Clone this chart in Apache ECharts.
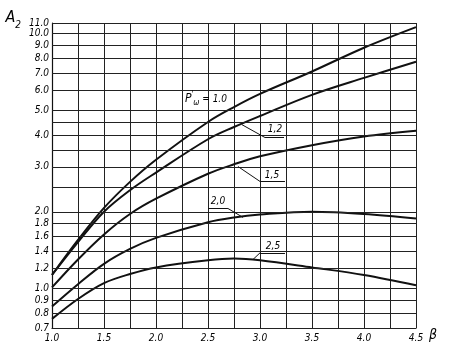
<!DOCTYPE html>
<html>
<head>
<meta charset="utf-8">
<script src="https://cdn.jsdelivr.net/npm/echarts@6/dist/echarts.min.js"></script>
<style>html,body{margin:0;padding:0;background:#fff}#c{width:452px;height:354px}</style>
</head>
<body>
<div id="c"></div>
<script>
// ---- data ----
const xValues = [1.0, 1.25, 1.5, 1.75, 2.0, 2.5, 2.75, 3.0, 3.5, 4.0, 4.5];
const curve10 = [1.13, 1.55, 2.07, 2.62, 3.2, 4.5, 5.15, 5.8, 7.1, 8.8, 10.6];
const curve12 = [1.13, 1.52, 2.0, 2.43, 2.85, 3.85, 4.3, 4.75, 5.75, 6.7, 7.75];
const curve15 = [1.01, 1.3, 1.63, 1.96, 2.25, 2.82, 3.07, 3.3, 3.65, 3.95, 4.16];
const curve20 = [0.85, 1.04, 1.25, 1.43, 1.58, 1.82, 1.9, 1.95, 2.0, 1.96, 1.88];
const curve25 = [0.76, 0.91, 1.05, 1.14, 1.21, 1.29, 1.31, 1.29, 1.21, 1.13, 1.03];
const yGridValues = [11, 10, 9, 8, 7, 6, 5, 4.5, 4, 3.5, 3, 2.5, 2, 1.8, 1.6, 1.4, 1.2, 1.0, 0.9, 0.8, 0.7];
const yTickLabels = ['11.0', '10.0', '9.0', '8.0', '7.0', '6.0', '5.0', '', '4.0', '', '3.0', '', '2.0', '1.8', '1.6', '1.4', '1.2', '1.0', '0.9', '0.8', '0.7'];
const curveLabels = ['1,2', '1,5', '2,0', '2,5'];
const curveLabelPos = [[3.144, 4.2], [3.115, 2.77], [2.596, 2.19], [3.125, 1.46]];
const leaderLines = [
  [[2.827, 4.39], [3.048, 3.91], [3.231, 3.91]],
  [[2.788, 3.01], [3.0, 2.63], [3.24, 2.63]],
  [[2.837, 1.90], [2.692, 2.06], [2.5, 2.06]],
  [[2.933, 1.30], [3.0, 1.38], [3.24, 1.38]]
];
const mainLabelPos = [2.48, 5.52];

const FONT = 'DejaVu Sans Condensed';
const INK = '#000';

const chart = echarts.init(document.getElementById('c'), null, {renderer: 'canvas'});

function curveSeries(vals) {
  return {
    type: 'line',
    data: xValues.map((x, i) => [x, vals[i]]),
    smooth: 0.35,
    showSymbol: false,
    symbol: 'none',
    lineStyle: {color: '#111', width: 2},
    animation: false,
    silent: true
  };
}

const gridLineData = yGridValues.map((v, i) => ({
  yAxis: v,
  label: yTickLabels[i] ? {show: true, formatter: yTickLabels[i]} : {show: false}
}));

const segData = [];
leaderLines.forEach(pl => {
  for (let i = 0; i < pl.length - 1; i++) {
    segData.push([{coord: pl[i]}, {coord: pl[i + 1]}]);
  }
});

const labelPoints = curveLabels.map((t, i) => ({
  coord: curveLabelPos[i],
  label: {formatter: t}
}));
labelPoints.push({
  coord: mainLabelPos,
  label: {formatter: '{p|P}{pr|\'}{w|ω}{t| = 1.0}'}
});

const option = {
  backgroundColor: '#fff',
  animation: false,
  grid: {left: 52, top: 23, width: 364, height: 305},
  xAxis: {
    type: 'value', min: 1, max: 4.5, interval: 0.25,
    name: 'β', nameLocation: 'end', nameGap: 13,
    nameTextStyle: {fontFamily: FONT, fontStyle: 'italic', fontSize: 14, color: INK, verticalAlign: 'top', padding: [0, 0, 0, 0]},
    axisLine: {show: true, lineStyle: {color: '#111', width: 1.2}},
    axisTick: {show: false},
    axisLabel: {
      fontFamily: FONT, fontStyle: 'italic', fontSize: 10, color: INK, margin: 5,
      formatter: v => (Math.abs(v * 2 - Math.round(v * 2)) < 1e-6 ? v.toFixed(1) : '')
    },
    splitLine: {show: true, lineStyle: {color: '#222', width: 1}}
  },
  yAxis: {
    type: 'log', logBase: 10, min: 0.7, max: 11,
    name: '{a|A}{b|2}', nameLocation: 'end', nameGap: 3,
    nameTextStyle: {
      align: 'right', verticalAlign: 'middle', padding: [0, 31, 0, 0],
      rich: {
        a: {fontFamily: FONT, fontStyle: 'italic', fontSize: 16, color: INK, verticalAlign: 'top', lineHeight: 20},
        b: {fontFamily: FONT, fontStyle: 'italic', fontSize: 10, color: INK, verticalAlign: 'bottom', lineHeight: 20}
      }
    },
    axisLine: {show: true, lineStyle: {color: '#111', width: 1.2}},
    axisTick: {show: false},
    axisLabel: {show: false},
    splitLine: {show: false}
  },
  series: [
    curveSeries(curve10),
    curveSeries(curve12),
    curveSeries(curve15),
    curveSeries(curve20),
    curveSeries(curve25),
    {
      type: 'line', data: [], silent: true, animation: false,
      markLine: {
        silent: true, animation: false, symbol: ['none', 'none'],
        lineStyle: {color: '#222', width: 1, type: 'solid'},
        label: {position: 'start', distance: 3, fontFamily: FONT, fontStyle: 'italic', fontSize: 10, color: INK},
        emphasis: {disabled: true},
        data: gridLineData
      }
    },
    {
      type: 'line', data: [], silent: true, animation: false,
      markLine: {
        silent: true, animation: false, symbol: ['none', 'none'],
        lineStyle: {color: '#111', width: 1, type: 'solid'},
        label: {show: false},
        emphasis: {disabled: true},
        data: segData
      },
      markPoint: {
        silent: true, animation: false, symbol: 'rect', symbolSize: 1,
        itemStyle: {color: 'rgba(0,0,0,0)'},
        label: {
          show: true, position: 'inside', fontFamily: FONT, fontStyle: 'italic', fontSize: 10, color: INK,
          rich: {
            p: {fontFamily: FONT, fontStyle: 'italic', fontSize: 12, color: INK, verticalAlign: 'middle', lineHeight: 16},
            pr: {fontFamily: FONT, fontSize: 8, color: INK, verticalAlign: 'top', lineHeight: 16},
            w: {fontFamily: FONT, fontStyle: 'italic', fontSize: 8, color: INK, verticalAlign: 'bottom', lineHeight: 16},
            t: {fontFamily: FONT, fontStyle: 'italic', fontSize: 10, color: INK, verticalAlign: 'middle', lineHeight: 16}
          }
        },
        data: labelPoints
      }
    }
  ]
};
chart.setOption(option);
</script>
</body>
</html>
